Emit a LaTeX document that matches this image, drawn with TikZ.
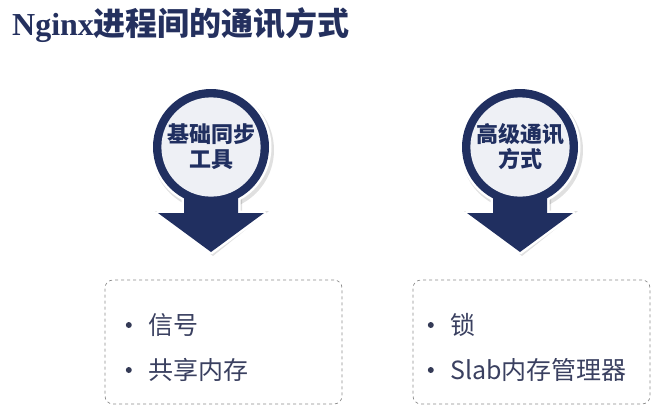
\documentclass[tikz,border=0pt]{standalone}
\usepackage{fontspec}
\setmainfont{Noto Sans CJK SC}
\newfontfamily\nginxfont{Liberation Serif}
\usetikzlibrary{positioning}

\definecolor{pinblue}{RGB}{32,47,96}
\definecolor{pinface}{RGB}{238,240,245}
\definecolor{titleblue}{RGB}{36,48,94}
\definecolor{itemtext}{RGB}{58,64,96}

\tikzset{
  pinshadow/.style = {fill=black, opacity=0.12},
  pinrim/.style    = {fill=white, draw=white, line width=5pt, line join=round},
  pinbody/.style   = {fill=pinblue},
  pinface/.style   = {circle, fill=pinface, minimum size=92pt, inner sep=0pt,
                      align=center, text=pinblue,
                      font=\fontsize{22}{25}\selectfont\bfseries},
  listbox/.style   = {draw=gray!90, dashed, line width=0.7pt, rounded corners=8pt,
                      minimum width=237pt, minimum height=124pt},
  listitem/.style  = {anchor=west, inner sep=0pt, text=itemtext,
                      font=\fontsize{25}{28}\selectfont},
  listdot/.style   = {circle, fill=itemtext!90!black, minimum size=6pt,
                      inner sep=0pt, left=16pt of #1}
}

\begin{document}
\begin{tikzpicture}[x=1pt, y=-1pt]

\useasboundingbox (0,0) rectangle (670,408);

% title
\node [anchor=west, inner sep=0pt, text=titleblue,
       font=\fontsize{32}{36}\selectfont\bfseries] (title) at (12,25)
  {{\nginxfont Nginx}进程间的通讯方式};

% pins with arrows
\foreach \cx/\name/\txt in {211/basic/{基础同步\\工具}, 520/adv/{高级通讯\\方式}} {
  \fill [pinshadow] (\cx+2,150) circle (61);
  \fill [pinshadow] (\cx-29,150) -- (\cx-29,211) -- (\cx-56,211) -- (\cx+2,256)
    -- (\cx+58,211) -- (\cx+31,211) -- (\cx+31,150) -- cycle;
  \filldraw [pinrim] (\cx,147) circle (58);
  \filldraw [pinrim] (\cx-27,150) -- (\cx-27,213) -- (\cx-53,213) -- (\cx,252)
    -- (\cx+53,213) -- (\cx+27,213) -- (\cx+27,150) -- cycle;
  \fill [pinbody] (\cx,147) circle (58);
  \fill [pinbody] (\cx-27,150) -- (\cx-27,213) -- (\cx-53,213) -- (\cx,252)
    -- (\cx+53,213) -- (\cx+27,213) -- (\cx+27,150) -- cycle;
  \node [pinface] (\name) at (\cx,147) {\txt};
}

% lists
\node [listbox] (basicbox) at (223.5,342) {};
\node [listbox] (advbox) at (531.5,342) {};

\node [listitem] (signal) at (148,325) {信号};
\node [listitem] (shm) at (148,370) {共享内存};
\node [listitem] (lock) at (450,325) {锁};
\node [listitem] (slab) at (450,370) {Slab内存管理器};

\foreach \item in {signal, shm, lock, slab}
  \node [listdot=\item] (\item dot) {};

\end{tikzpicture}
\end{document}
